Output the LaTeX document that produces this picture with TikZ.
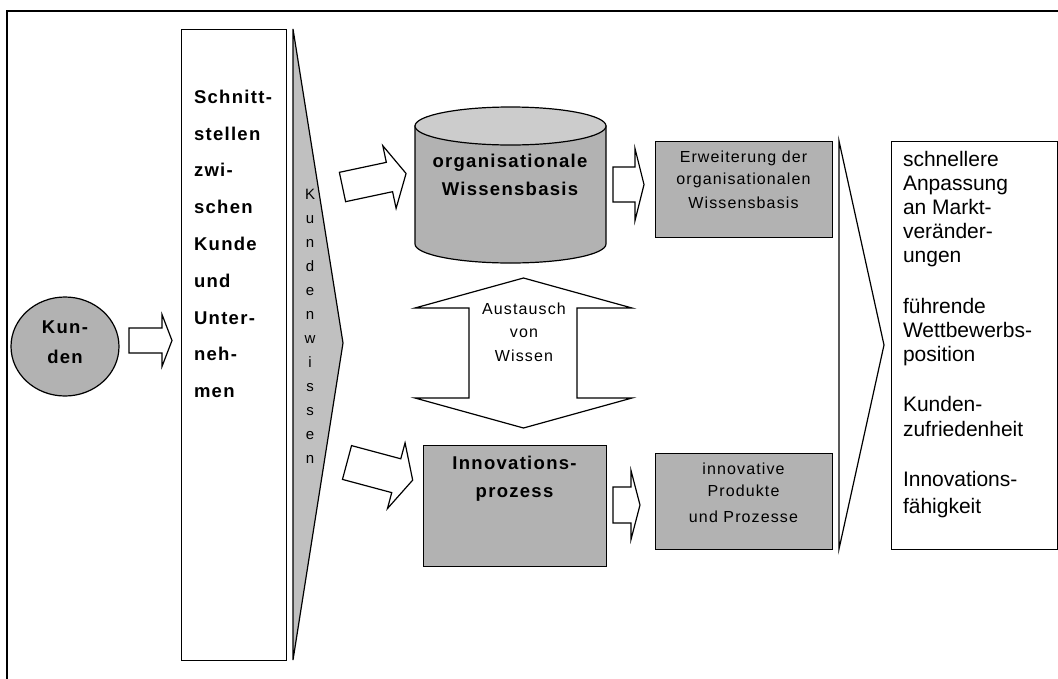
\documentclass[tikz,border=0pt]{standalone}
\usepackage{fontspec}
\setmainfont{Liberation Sans}
\newfontfamily\spacedsans{Liberation Sans}[LetterSpace=7]
\usetikzlibrary{shapes.geometric}

\definecolor{boxgray}{RGB}{178,178,178}
\definecolor{wedgegray}{RGB}{192,192,192}
\definecolor{lidgray}{RGB}{204,204,204}

\tikzset{
  x=1pt, y=-1pt,
  outline/.style={draw=black, line width=1.2pt, line join=miter},
  graybox/.style={outline, fill=boxgray},
  plainbox/.style={outline, fill=white},
  hollowarrow/.style={outline, fill=white},
  txt/.style={inner sep=0pt, outer sep=0pt, anchor=base},
  % block arrow along +x: length / shaft half width / head half width / head length
  pics/blockarrow/.style args={#1/#2/#3/#4}{code={
    \path[hollowarrow] (0,-#2) -- ({#1-#4},-#2) -- ({#1-#4},-#3) -- (#1,0)
      -- ({#1-#4},#3) -- ({#1-#4},#2) -- (0,#2) -- cycle;}},
}

\begin{document}
\begin{tikzpicture}
\useasboundingbox (0,0) rectangle (1058,678);

% outer frame (runs off the right and bottom edges)
\draw[line width=1.2pt] (1075,11) -- (7,11) -- (7,695);

% customers
\node[ellipse, graybox, minimum width=108, minimum height=99, inner sep=0pt] (kunden) at (65,346.5) {};
\node[txt] (kundentext) at (65,333.3)
  {\parbox[t]{70pt}{\centering\spacedsans\bfseries\fontsize{18.5}{30}\selectfont Kun-\\den}};

\pic at (129,340.5) {blockarrow=43/12.5/26/10};

% interfaces column
\node[plainbox, minimum width=105, minimum height=631, anchor=north west, inner sep=0pt] (schnitt) at (181,29) {};
\node[txt, anchor=base west] (schnitttext) at (194,103.3)
  {\parbox[t]{90pt}{\raggedright\spacedsans\bfseries\fontsize{18.5}{36.8}\selectfont
   Schnitt-\\stellen\\zwi-\\schen\\Kunde\\und\\Unter-\\neh-\\men}};

% customer knowledge wedge
\draw[outline, fill=wedgegray] (293,29) -- (343,343) -- (293,660) -- cycle;
\node[txt] (kundenwissen) at (310,199)
  {\parbox[t]{20pt}{\centering\fontsize{15}{24.03}\selectfont K\\u\\n\\d\\e\\n\\w\\i\\s\\s\\e\\n}};

% arrows into the knowledge base and the innovation process
\pic[rotate=12] at (342.5,187) {blockarrow=65/15/32/17};
\pic[rotate=-15] at (347,462.5) {blockarrow=68/17.5/34/17};

% organisational knowledge base (cylinder)
\path[outline, fill=boxgray] (415,126) -- (415,244)
  arc[start angle=180, end angle=0, x radius=95.5, y radius=19] -- (606,126) -- cycle;
\draw[outline, fill=lidgray] (510.5,126) ellipse [x radius=95.5, y radius=19];
\coordinate (wissensbasis) at (510.5,185);
\node[txt] (wissensbasistext) at (510,167)
  {\parbox[t]{180pt}{\centering\spacedsans\bfseries\fontsize{18.5}{28}\selectfont organisationale\\Wissensbasis}};

% exchange of knowledge (double arrow)
\path[hollowarrow] (523.5,278) -- (632,308) -- (577,308) -- (577,398) -- (632,398)
  -- (523.5,428) -- (415,398) -- (469,398) -- (469,308) -- (415,308) -- cycle;
\node[txt] (austausch) at (524,314)
  {\parbox[t]{100pt}{\centering\spacedsans\fontsize{16}{23.8}\selectfont Austausch\\von\\Wissen}};

% innovation process
\node[graybox, minimum width=183, minimum height=121, anchor=north west, inner sep=0pt] (innovation) at (423,445) {};
\node[txt] (innovationtext) at (514.5,469)
  {\parbox[t]{180pt}{\centering\spacedsans\bfseries\fontsize{18.5}{28}\selectfont Innovations-\\prozess}};

% results
\pic at (613,184.5) {blockarrow=31/17.5/36/9};
\pic at (613,505) {blockarrow=27/18/34.5/9};

\node[graybox, minimum width=177, minimum height=96, anchor=north west, inner sep=0pt] (erweiterung) at (655,141) {};
\node[txt] (erweiterungtext) at (743.5,162)
  {\parbox[t]{175pt}{\centering\spacedsans\fontsize{16}{22}\selectfont Erweiterung der\\organisationalen\\[2.5pt]Wissensbasis}};

\node[graybox, minimum width=177, minimum height=96, anchor=north west, inner sep=0pt] (produkte) at (655,453) {};
\node[txt] (produktetext) at (743.5,474)
  {\parbox[t]{175pt}{\centering\spacedsans\fontsize{16}{22}\selectfont innovative\\Produkte\\[4pt]und Prozesse}};

% bracket wedge and effects
\draw[outline] (839,141) -- (884,345) -- (839,549) -- cycle;
\node[plainbox, minimum width=166, minimum height=408, anchor=north west, inner sep=0pt] (wirkung) at (891,141) {};
\node[txt, anchor=base west] (wirkungtext) at (903,166)
  {\parbox[t]{150pt}{\raggedright\fontsize{21}{24.2}\selectfont
   schnellere\\Anpassung\\an Markt-\\veränder-\\ungen\\[26.4pt]
   führende\\Wettbewerbs-\\position\\[25.8pt]
   Kunden-\\zufriedenheit\\[25.8pt]
   Innovations-\\[3.4pt]fähigkeit}};
\end{tikzpicture}
\end{document}
